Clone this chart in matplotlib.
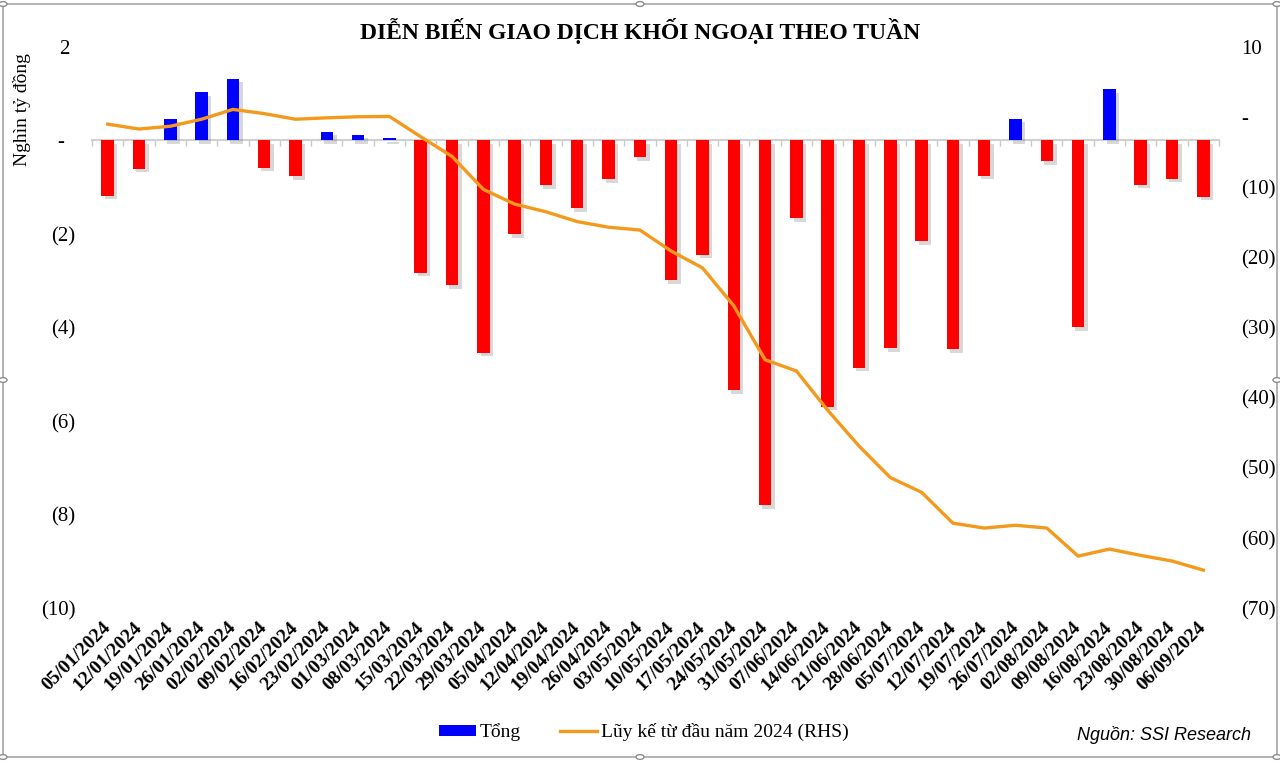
import matplotlib
matplotlib.use("Agg")
import matplotlib.pyplot as plt
import matplotlib.patheffects as pe
from matplotlib.patches import Patch, Rectangle, Circle
from matplotlib.lines import Line2D
import numpy as np

weeks = ["05/01/2024", "12/01/2024", "19/01/2024", "26/01/2024", "02/02/2024", "09/02/2024",
         "16/02/2024", "23/02/2024", "01/03/2024", "08/03/2024", "15/03/2024", "22/03/2024",
         "29/03/2024", "05/04/2024", "12/04/2024", "19/04/2024", "26/04/2024", "03/05/2024",
         "10/05/2024", "17/05/2024", "24/05/2024", "31/05/2024", "07/06/2024", "14/06/2024",
         "21/06/2024", "28/06/2024", "05/07/2024", "12/07/2024", "19/07/2024", "26/07/2024",
         "02/08/2024", "09/08/2024", "16/08/2024", "23/08/2024", "30/08/2024", "06/09/2024"]

weekly_total = [-1.18, -0.60, 0.46, 1.03, 1.32, -0.58, -0.76, 0.19, 0.12, 0.05, -2.83, -3.10,
                -4.54, -2.01, -0.96, -1.45, -0.83, -0.36, -2.99, -2.44, -5.34, -7.80, -1.66, -5.70,
                -4.86, -4.44, -2.16, -4.47, -0.75, 0.46, -0.44, -3.99, 1.10, -0.95, -0.82, -1.20]

cumulative = [-1.0, -1.7, -1.3, -0.3, 1.1, 0.5, -0.3, -0.1, 0.05, 0.1, -2.8, -5.6,
              -10.3, -12.4, -13.5, -14.9, -15.7, -16.1, -19.1, -21.5, -26.9, -34.6, -36.2, -41.8,
              -46.9, -51.4, -53.5, -57.9, -58.6, -58.2, -58.6, -62.6, -61.6, -62.5, -63.3, -64.6]

left_ticks = [2, 0, -2, -4, -6, -8, -10]
right_ticks = [10, 0, -10, -20, -30, -40, -50, -60, -70]

title = "DIỄN BIẾN GIAO DỊCH KHỐI NGOẠI THEO TUẦN"
ylabel = "Nghìn tỷ đồng"
legend_bar = "Tổng"
legend_line = "Lũy kế từ đầu năm 2024 (RHS)"
source = "Nguồn: SSI Research"

SERIF = "Liberation Serif"
BLUE = "#0000FF"
RED = "#FF0000"
ORANGE = "#F39A1C"

W, H = 1280, 761
fig = plt.figure(figsize=(W / 100, H / 100), dpi=100)
fig.patch.set_facecolor("white")

ax = fig.add_axes([92 / W, 1 - 608 / H, (1219 - 92) / W, (608 - 47) / H])
ax.set_xlim(-0.5, len(weeks) - 0.5)
ax.set_ylim(-10, 2)
ax.set_facecolor("none")

x = np.arange(len(weeks))
colors = [BLUE if v > 0 else RED for v in weekly_total]
bars = ax.bar(x, weekly_total, width=0.4, color=colors, zorder=3)
for b in bars:
    b.set_path_effects([pe.SimplePatchShadow(offset=(2.5, -2.5), shadow_rgbFace="#808080", alpha=0.3),
                        pe.Normal()])

for s in ax.spines.values():
    s.set_visible(False)

# zero line with category tick marks
ymin, ymax = ax.get_ylim()
sec = ax.secondary_xaxis((0 - ymin) / (ymax - ymin))
sec.set_xticks(np.arange(len(weeks) + 1) - 0.5)
sec.set_xticklabels([])
sec.tick_params(axis="x", which="both", direction="in", length=4, width=1, color="#C8C8C8",
                labeltop=False, labelbottom=False)
for s in sec.spines.values():
    s.set_color("#D0D0D0")
    s.set_linewidth(1.5)

ax.set_xticks(x)
ax.set_xticklabels(weeks, rotation=45, ha="right", va="center", rotation_mode="anchor",
                   fontfamily=SERIF, fontweight="bold", fontsize=14)
ax.tick_params(axis="x", length=0, pad=12)

def lfmt(v):
    if v > 0:
        return f"{v:g} "
    if v == 0:
        return "-  "
    return f"({abs(v):g})"

ax.set_yticks(left_ticks)
ax.set_yticklabels([lfmt(v) for v in left_ticks], fontfamily=SERIF, fontsize=15)
ax.tick_params(axis="y", length=0, pad=12)

ax.text(22 / W, 1 - 110 / H, ylabel, transform=fig.transFigure, rotation=90,
        ha="center", va="center", fontfamily=SERIF, fontsize=14)

ax2 = ax.twinx()
ax2.set_ylim(-70, 10)
ax2.plot(x, cumulative, color=ORANGE, linewidth=2.4, zorder=5, solid_joinstyle="round")
for s in ax2.spines.values():
    s.set_visible(False)

def rfmt(v):
    if v > 0:
        return f"{v:g}"
    if v == 0:
        return "-"
    return f"({abs(v):g})"

ax2.set_yticks(right_ticks)
ax2.set_yticklabels([rfmt(v) for v in right_ticks], fontfamily=SERIF, fontsize=15)
ax2.tick_params(axis="y", length=0, pad=16)

fig.text(640 / W, 1 - 31 / H, title, ha="center", va="center", fontfamily=SERIF,
         fontweight="bold", fontsize=17)

handles = [Patch(facecolor=BLUE, edgecolor="none"),
           Line2D([0], [0], color=ORANGE, linewidth=2.4)]
fig.legend(handles, [legend_bar, legend_line], loc="center", ncol=2,
           bbox_to_anchor=(644 / W, 1 - 732 / H), frameon=False,
           prop={"family": SERIF, "size": 14}, handlelength=1.9, handleheight=0.5,
           columnspacing=2.0, handletextpad=0.2)

fig.text(1251 / W, 1 - 735 / H, source, ha="right", va="center",
         fontfamily="Liberation Sans", fontstyle="italic", fontsize=13)

# chart frame with selection handles
fig.patches.append(Rectangle((3 / W, 4 / H), (1277 - 3) / W, (757 - 4) / H,
                             transform=fig.transFigure, fill=False, edgecolor="#A6A6A6",
                             linewidth=1.2))
for hx, hy in [(3, 4), (640, 4), (1277, 4), (3, 380), (1277, 380), (3, 757), (640, 757), (1277, 757)]:
    fig.patches.append(Circle((hx / W, 1 - hy / H), 4 / W, transform=fig.transFigure,
                              facecolor="white", edgecolor="#8C8C8C", linewidth=1.0, zorder=10))

fig.savefig("out.png", dpi=100, facecolor="white")
